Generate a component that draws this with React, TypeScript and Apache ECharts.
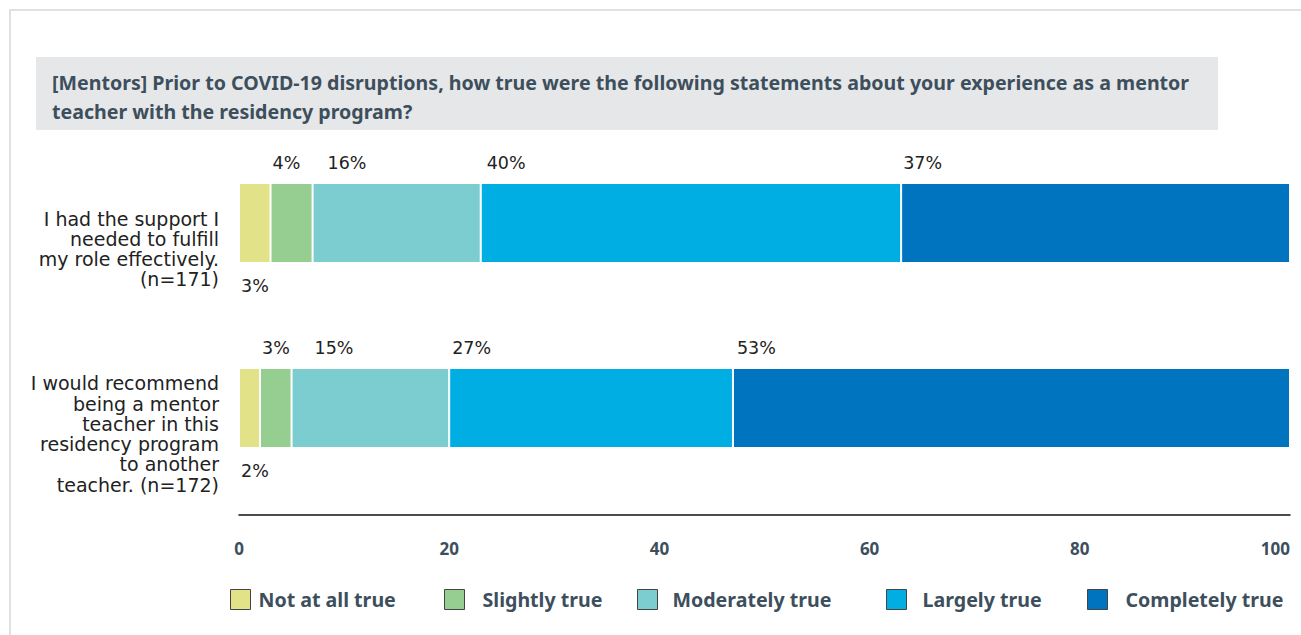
import React, { useEffect, useRef } from "react";
import * as echarts from "echarts";

const titleText =
  "[Mentors] Prior to COVID-19 disruptions, how true were the following statements about your experience as a mentor\nteacher with the residency program?";

const categories = [
  "I had the support I\nneeded to fulfill\nmy role effectively.\n(n=171)",
  "I would recommend\nbeing a mentor\nteacher in this\nresidency program\nto another\nteacher. (n=172)",
];

const seriesNames = [
  "Not at all true",
  "Slightly true",
  "Moderately true",
  "Largely true",
  "Completely true",
];

const notAtAllTrue = [3, 2];
const slightlyTrue = [4, 3];
const moderatelyTrue = [16, 15];
const largelyTrue = [40, 27];
const completelyTrue = [37, 53];

const xTicks = [0, 20, 40, 60, 80, 100];

const colors = ["#e2e388", "#96ce92", "#7bcdd0", "#00aee4", "#0074bf"];
// label horizontal nudges per series / row (style only)
const labelDx = [
  [2, 2],
  [2, 2],
  [15, 23],
  [6, 3],
  [2, 4],
];
const legendLeft = [230, 444, 637, 886, 1087];
const legendTextPad = [3, 13, 10, 11, 13];

export default function App() {
  const ref = useRef<HTMLDivElement>(null);
  useEffect(() => {
    if (!ref.current) return;
    const chart = echarts.init(ref.current, null, { renderer: "svg" });
    const values = [notAtAllTrue, slightlyTrue, moderatelyTrue, largelyTrue, completelyTrue];
    const lightFont = "'DejaVu Sans', sans-serif";
    const boldFont = "'Noto Sans', sans-serif";
    const series = values.map((vals, si) => ({
      name: seriesNames[si],
      type: "bar",
      stack: "total",
      barWidth: 80,
      itemStyle: { color: colors[si], borderColor: "#ffffff", borderWidth: 1 },
      data: vals.map((v, ri) => ({
        value: v,
        label: {
          show: true,
          formatter: "{c}%",
          position: si === 0 ? [labelDx[si][ri], 103] : [labelDx[si][ri], -20],
          align: "left",
          verticalAlign: "middle",
          fontSize: 17.5,
          fontFamily: lightFont,
          color: "#222222",
        },
      })),
    }));
    chart.setOption({
      animation: false,
      graphic: [
        {
          type: "rect",
          z: -10,
          shape: { x: 10, y: 10, width: 1300, height: 640 },
          style: { fill: "#ffffff", stroke: "#dde2e7", lineWidth: 2 },
        },
        {
          type: "rect",
          z: -9,
          shape: { x: 36, y: 57, width: 1182, height: 73 },
          style: { fill: "#e6e7e8" },
        },
      ],
      title: {
        text: titleText,
        left: 52,
        top: 68,
        padding: 0,
        textStyle: {
          fontFamily: boldFont,
          fontSize: 19.6,
          fontWeight: "bold",
          color: "#3d4f5c",
          lineHeight: 29,
        },
      },
      legend: seriesNames.map((n, i) => ({
        data: [n],
        left: legendLeft[i],
        top: 589,
        padding: 0,
        itemWidth: 20,
        itemHeight: 20,
        icon: "rect",
        selectedMode: false,
        itemStyle: { borderColor: "#444444", borderWidth: 1 },
        textStyle: {
          fontFamily: boldFont,
          fontSize: 19.6,
          fontWeight: "bold",
          color: "#3d4f5c",
          padding: [0, 0, 0, legendTextPad[i]],
        },
      })),
      grid: { left: 239, right: 11, top: 130.5, height: 370, containLabel: false },
      xAxis: {
        type: "value",
        min: xTicks[0],
        max: xTicks[xTicks.length - 1],
        interval: xTicks[1] - xTicks[0],
        offset: 14.5,
        axisLine: { show: true, lineStyle: { color: "#111111", width: 1.5 } },
        axisTick: { show: false },
        splitLine: { show: false },
        axisLabel: {
          margin: 25,
          fontFamily: boldFont,
          fontSize: 17,
          fontWeight: "bold",
          color: "#3d4f5c",
          alignMaxLabel: "right",
        },
      },
      yAxis: {
        type: "category",
        inverse: true,
        data: categories,
        axisLine: { show: false },
        axisTick: { show: false },
        axisLabel: {
          margin: 20,
          align: "right",
          formatter: (v: string) =>
            "{s| }\n" + v.split("\n").map((l) => `{t|${l}}`).join("\n"),
          rich: {
            s: { fontSize: 10, lineHeight: 52, height: 52 },
            t: {
              fontFamily: lightFont,
              fontSize: 19,
              color: "#222222",
              lineHeight: 20.3,
              align: "right",
            },
          },
        },
      },
      series,
    });
    return () => chart.dispose();
  }, []);
  return (
    <div
      ref={ref}
      style={{ position: "fixed", left: 0, top: 0, width: 1301, height: 635, background: "#fff" }}
    />
  );
}
